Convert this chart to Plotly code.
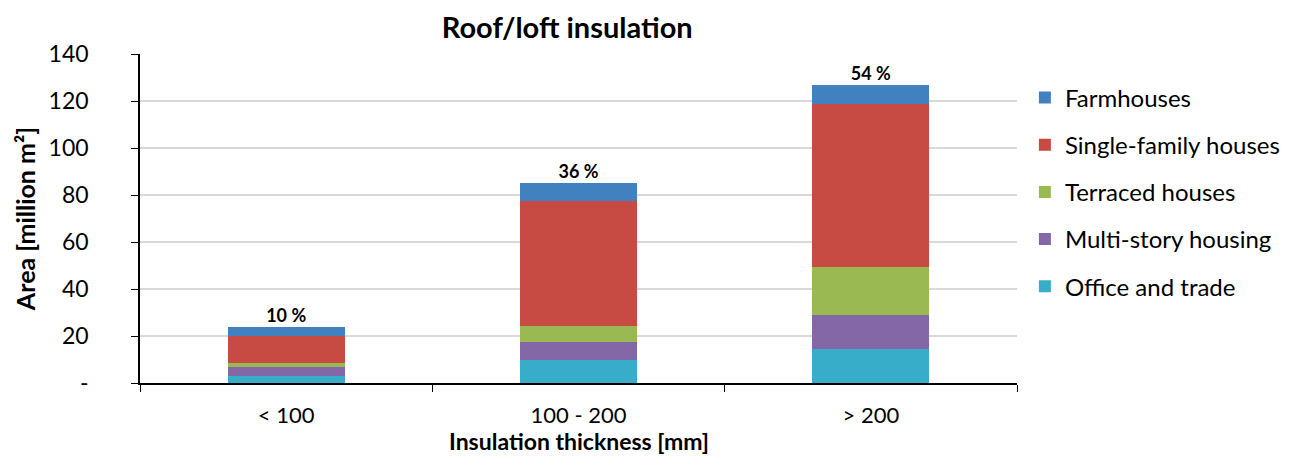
import plotly.graph_objects as go

# Insulation thickness classes
categories = ["< 100", "100 - 200", "> 200"]

# Roof/loft area per building type [million m²]
office_trade = [2.8, 9.6, 14.6]
multi_story = [4.2, 8.0, 14.4]
terraced = [1.5, 6.8, 20.3]
single_family = [11.7, 52.9, 69.6]
farmhouses = [3.8, 8.0, 8.1]

y_tickvals = [0, 20, 40, 60, 80, 100, 120, 140]
y_ticktext = ["-", "20", "40", "60", "80", "100", "120", "140"]

series = [
    ("Office and trade", office_trade, "#37adc9"),
    ("Multi-story housing", multi_story, "#8467a6"),
    ("Terraced houses", terraced, "#9bb953"),
    ("Single-family houses", single_family, "#c74b42"),
    ("Farmhouses", farmhouses, "#4281c0"),
]

FONT = "Lato"

fig = go.Figure()
for i, (name, vals, color) in enumerate(series):
    fig.add_trace(go.Bar(
        x=categories, y=vals, name=name,
        marker=dict(color=color, line=dict(width=0)),
        legendgroup=name, legendrank=100 - i,
    ))

# Share of total area, written above each stacked bar
totals = [sum(v) for v in zip(office_trade, multi_story, terraced, single_family, farmhouses)]
grand = sum(totals)
labels = [f"{round(t / grand * 100)} %" for t in totals]
fig.add_trace(go.Scatter(
    x=categories, y=totals, mode="text", text=labels,
    textposition="top center",
    textfont=dict(family=FONT, size=18, color="black", weight="bold"),
    showlegend=False, hoverinfo="skip",
))

fig.update_layout(
    barmode="stack",
    bargap=0.6,
    width=1301, height=457,
    margin=dict(l=140, r=284, t=54, b=74),
    paper_bgcolor="white", plot_bgcolor="white",
    font=dict(family=FONT, size=23, color="black"),
    title=dict(text="<b>Roof/loft insulation</b>", x=0.436, xanchor="center",
               y=0.94, yanchor="middle", font=dict(size=29, family=FONT)),
    legend=dict(x=1.009, xanchor="left", y=0.935, yanchor="top",
                font=dict(size=24, family=FONT), tracegroupgap=13,
                itemwidth=30, bgcolor="rgba(0,0,0,0)"),
)

# x-axis title sits just below the category labels, at the bottom edge
fig.add_annotation(
    text="<b>Insulation thickness [mm]</b>", xref="paper", yref="paper",
    x=0.5, y=-0.226, xanchor="center", yanchor="bottom", showarrow=False,
    font=dict(size=23, family=FONT, color="black"),
)

fig.update_xaxes(
    automargin=False,
    showline=True, linecolor="black", linewidth=1.5,
    ticks="outside", tickson="boundaries", ticklen=7, tickcolor="black",
    tickfont=dict(size=22), ticklabelstandoff=12,
)
fig.update_yaxes(
    automargin=False,
    range=[0, 140], tickvals=y_tickvals, ticktext=y_ticktext,
    showline=True, linecolor="black", linewidth=1.5,
    ticks="outside", ticklen=7, tickcolor="black",
    showgrid=True, gridcolor="#d9d9d9", gridwidth=1.5,
    tickfont=dict(size=23), ticklabelstandoff=38,
    title=dict(text="<b>Area [million m²]</b>", font=dict(size=25), standoff=6),
)

fig.write_html("out.html")
